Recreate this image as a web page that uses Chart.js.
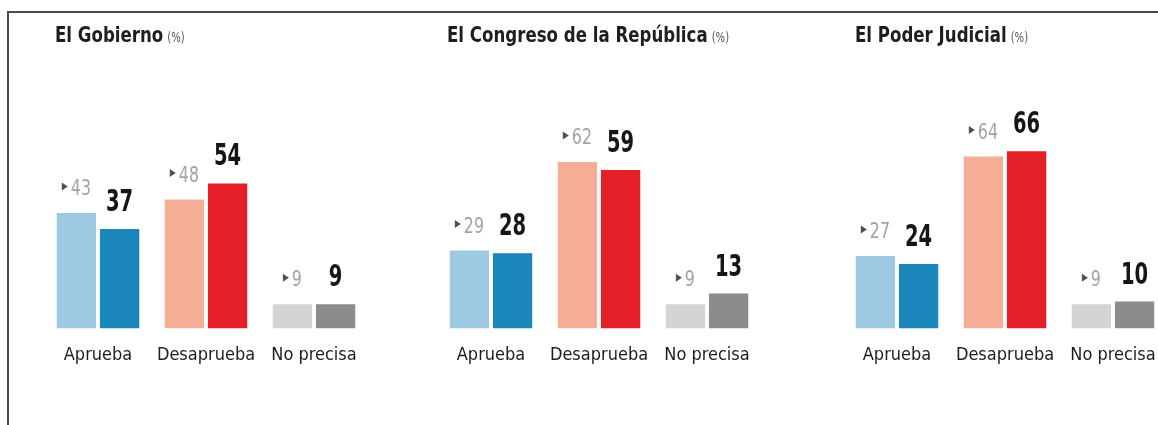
<!DOCTYPE html>
<html>
<head>
<meta charset="utf-8">
<script src="https://cdn.jsdelivr.net/npm/chart.js@4.4.1/dist/chart.umd.min.js"></script>
<style>
  html, body { margin: 0; padding: 0; background: #fff; overflow: hidden; }
  #page { position: relative; width: 1158px; height: 425px; overflow: hidden; }
  #frame { position: absolute; left: 7px; top: 11px; width: 1200px; height: 500px;
           border-top: 2px solid #4a4a4a; border-left: 2px solid #4a4a4a; }
  .panel { position: absolute; top: 0; }
</style>
</head>
<body>
<div id="page">
  <div id="frame"></div>
  <canvas class="panel" id="c0" width="400" height="425" style="left:0px"></canvas>
  <canvas class="panel" id="c1" width="400" height="425" style="left:400px"></canvas>
  <canvas class="panel" id="c2" width="400" height="425" style="left:800px"></canvas>
</div>
<script>
const categories = ["Aprueba", "Desaprueba", "No precisa"];
const panelTitles = ["El Gobierno", "El Congreso de la República", "El Poder Judicial"];

// sondeo anterior (gris, con flecha) y actual (negrita)
const gobiernoAnterior = [43, 48, 9];
const gobiernoActual = [37, 54, 9];
const congresoAnterior = [29, 62, 9];
const congresoActual = [28, 59, 13];
const judicialAnterior = [27, 64, 9];
const judicialActual = [24, 66, 10];

const coloresAnterior = ["#9dcae2", "#f5ae96", "#d4d4d4"];
const coloresActual = ["#1a86b9", "#e41f28", "#8c8c8c"];

const FONT = "'DejaVu Sans Condensed', 'DejaVu Sans', sans-serif";

const panels = [
    { id: "c0", title: panelTitles[0], prev: gobiernoAnterior, curr: gobiernoActual, titleX: 55, padL: 44, padR: 32 },
    { id: "c1", title: panelTitles[1], prev: congresoAnterior, curr: congresoActual, titleX: 47, padL: 37, padR: 39 },
    { id: "c2", title: panelTitles[2], prev: judicialAnterior, curr: judicialActual, titleX: 55, padL: 43, padR: 33 }
];

// texto estrechado a lo ancho (la fuente original es condensada)
function narrowText(ctx, txt, x, y, sx, align) {
    ctx.save();
    ctx.translate(x, y);
    ctx.scale(sx, 1);
    ctx.textAlign = align;
    ctx.fillText(txt, 0, 0);
    ctx.restore();
    return ctx.measureText(txt).width * sx;
}

// titulo + "(%)" y etiquetas de valores encima de cada barra
const labelsPlugin = {
    id: "labelsPlugin",
    afterDatasetsDraw(chart, args, opts) {
        const ctx = chart.ctx;
        ctx.save();
        ctx.textBaseline = "alphabetic";

        ctx.fillStyle = "#1e1e1e";
        ctx.font = "bold 22px " + FONT;
        const tw = narrowText(ctx, opts.title, opts.titleX, 42, 0.84, "left");
        ctx.fillStyle = "#555";
        ctx.font = "14px " + FONT;
        narrowText(ctx, "(%)", opts.titleX + tw + 4, 42, 0.8, "left");

        const prevMeta = chart.getDatasetMeta(0);
        const currMeta = chart.getDatasetMeta(1);

        prevMeta.data.forEach((bar, i) => {
            const txt = String(chart.data.datasets[0].data[i]);
            ctx.font = "22px " + FONT;
            const w = ctx.measureText(txt).width * 0.8;
            const total = 6 + 3 + w;
            const x0 = bar.x - total / 2;
            const base = bar.y - 18;
            ctx.fillStyle = "#505050";
            ctx.beginPath();
            ctx.moveTo(x0, base - 12.5);
            ctx.lineTo(x0 + 6, base - 8.5);
            ctx.lineTo(x0, base - 4.5);
            ctx.closePath();
            ctx.fill();
            ctx.fillStyle = "#a3a3a3";
            narrowText(ctx, txt, x0 + 9, base, 0.8, "left");
        });

        currMeta.data.forEach((bar, i) => {
            const txt = String(chart.data.datasets[1].data[i]);
            ctx.font = "bold 31px " + FONT;
            ctx.fillStyle = "#161616";
            narrowText(ctx, txt, bar.x, bar.y - 18, 0.7, "center");
        });

        ctx.restore();
    }
};

panels.forEach(p => {
    const ctx = document.getElementById(p.id).getContext("2d");
    new Chart(ctx, {
        type: "bar",
        data: {
            labels: categories,
            datasets: [
                { label: "Anterior", data: p.prev, backgroundColor: coloresAnterior },
                { label: "Actual", data: p.curr, backgroundColor: coloresActual }
            ]
        },
        options: {
            responsive: false,
            animation: false,
            events: [],
            categoryPercentage: 0.8,
            barPercentage: 0.91,
            layout: { padding: { top: 60, left: p.padL, right: p.padR, bottom: 43 } },
            scales: {
                x: {
                    grid: { display: false, drawTicks: false },
                    border: { display: false },
                    ticks: {
                        color: "#1c1c1c",
                        font: { family: FONT, size: 18 },
                        padding: 16,
                        maxRotation: 0,
                        autoSkip: false
                    }
                },
                y: { display: false, min: 0, max: 100 }
            },
            plugins: {
                legend: { display: false },
                tooltip: { enabled: false },
                labelsPlugin: { title: p.title, titleX: p.titleX }
            }
        },
        plugins: [labelsPlugin]
    });
});
</script>
</body>
</html>
